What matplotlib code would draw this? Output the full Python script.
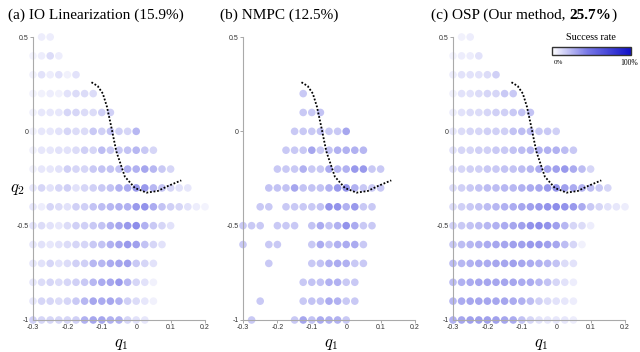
import numpy as np
import matplotlib
matplotlib.use("Agg")
import matplotlib.pyplot as plt
from matplotlib.colors import LinearSegmentedColormap

plt.rcParams["mathtext.fontset"] = "cm"

N = None  # no sample at this grid point

Q1 = [-0.3, -0.275, -0.25, -0.225, -0.2, -0.175, -0.15, -0.125, -0.1, -0.075, -0.05,
      -0.025, 0.0, 0.025, 0.05, 0.075, 0.1, 0.125, 0.15, 0.175, 0.2]
Q2 = [0.5, 0.4, 0.3, 0.2, 0.1, 0.0, -0.1, -0.2, -0.3, -0.4, -0.5, -0.6, -0.7, -0.8, -0.9, -1.0]

# success rate (%) per grid point, one list per q2 row, indexed along Q1
RATE_IO = [
    [N, 6, 6],
    [4, 6, 12, 6],
    [5, 10, 6, 10, 5, 10],
    [4, 5, 6, 5, 10, 12, 12, 12],
    [5, 8, 8, 8, 14, 14, 12, 12, 16, 16],
    [5, 8, 8, 10, 14, 12, 12, 18, 16, 20, 16, 14, 24],
    [5, 8, 8, 10, 10, 12, 16, 14, 22, 18, 18, 20, 24, 18, 14],
    [5, 8, 8, 10, 16, 14, 14, 18, 20, 20, 20, 26, 26, 30, 24, 18, 14],
    [8, 14, 10, 14, 16, 10, 14, 16, 18, 20, 26, 28, 34, 34, 24, 20, 14, 10, 8],
    [8, 6, 14, 12, 10, 16, 16, 20, 22, 24, 26, 26, 34, 36, 28, 20, 16, 14, 10, 6, 4],
    [10, 12, 10, 8, 12, 16, 16, 18, 20, 26, 30, 34, 38, 26, 18, 14, 10],
    [8, 10, 8, 10, 12, 14, 14, 18, 20, 26, 30, 34, 32, 20, 14, 10],
    [8, 10, 14, 10, 12, 16, 16, 24, 24, 28, 30, 32, 18, 14, 10],
    [8, 12, 14, 12, 14, 16, 18, 24, 28, 30, 34, 24, 14, 10, 5],
    [8, 14, 14, 12, 14, 18, 24, 30, 28, 30, 26, 16, 12, 8, 5],
    [16, 14, 14, 14, 14, 16, 26, 30, 30, 26, 26, 14, 10, 8],
]
RATE_NMPC = [
    [],
    [],
    [],
    [N, N, N, N, N, N, N, 18],
    [N, N, N, N, N, N, N, 18, 18, 20],
    [N, N, N, N, N, N, 18, 18, 18, 20, 18, 18, 30],
    [N, N, N, N, N, 18, 18, 18, 30, 18, 20, 26, 26, 26, 24],
    [N, N, N, N, 18, 18, 18, 26, 18, 18, 28, 24, 26, 34, 34, 18, 18],
    [N, N, N, 20, 20, 20, 30, 20, 20, 20, 26, 34, 36, 26, 18, 18, 18],
    [N, N, 18, 18, N, 18, 18, 18, 18, 20, 36, 36, 26, 34, 18, 18],
    [18, 18, 18, N, 18, 18, 18, N, 20, 28, 20, 26, 36, 28, 18, 18],
    [18, N, N, 18, 18, N, N, N, 18, 28, 20, 26, 28, 28, 18],
    [N, N, N, 18, N, N, N, N, 18, 20, 26, 28, 26, 18, 18],
    [N, N, N, N, N, N, N, 18, 20, 20, 26, 26, 18, 18],
    [N, N, 18, N, N, N, N, 18, 20, 20, 28, 26, 18, 18],
    [N, 18, N, N, N, N, 18, 30, 20, 28, 26, 26, 18],
]
RATE_OSP = [
    [N, 5, 6],
    [4, 6, 6, 10],
    [6, 10, 10, 10, 12, 16],
    [5, 10, 10, 12, 14, 14, 18, 18],
    [6, 10, 12, 12, 14, 16, 16, 18, 20, 20],
    [8, 12, 14, 14, 16, 16, 16, 20, 22, 22, 18, 18, 16],
    [10, 14, 14, 16, 16, 18, 18, 20, 22, 24, 26, 26, 26, 22, 18],
    [10, 14, 16, 16, 18, 18, 20, 20, 22, 24, 28, 30, 32, 34, 28, 22, 14],
    [12, 16, 18, 20, 22, 22, 24, 24, 26, 28, 30, 34, 36, 32, 28, 26, 22, 18, 14],
    [12, 16, 18, 20, 22, 24, 26, 28, 30, 32, 34, 36, 38, 36, 34, 28, 18, 14, 10, 8, 6],
    [16, 18, 20, 22, 24, 26, 28, 30, 32, 36, 38, 36, 32, 24, 14, 12, 6],
    [18, 22, 24, 26, 28, 30, 30, 32, 32, 34, 34, 32, 30, 22, 14, 5],
    [22, 24, 26, 28, 28, 30, 30, 32, 30, 28, 26, 24, 20, 12, 10],
    [22, 26, 28, 30, 30, 30, 30, 30, 28, 28, 24, 20, 14, 10, 6],
    [24, 28, 30, 30, 30, 30, 30, 28, 26, 22, 16, 12, 10, 8, 6],
    [26, 30, 32, 32, 32, 32, 30, 28, 20, 14, 10, 8, 8, 8, 6],
]

# dotted boundary curve, same in every panel
BORDER_Q1 = [-0.13, -0.112, -0.097, -0.085, -0.072, -0.058, -0.033, -0.004, 0.03, 0.063,
             0.092, 0.131]
BORDER_Q2 = [0.26, 0.24, 0.2, 0.13, 0.02, -0.105, -0.24, -0.30, -0.325, -0.316, -0.29, -0.26]

XTICKS = [-0.3, -0.2, -0.1, 0, 0.1, 0.2]
XTICKLABELS = ["-0.3", "-0.2", "-0.1", "0", "0.1", "0.2"]
YTICKS = [0.5, 0, -0.5, -1]
YTICKLABELS = ["0.5", "0", "-0.5", "-1"]

PANELS = [
    ("(a) IO Linearization (15.9%)", RATE_IO),
    ("(b) NMPC (12.5%)", RATE_NMPC),
    ("(c) OSP (Our method, ", RATE_OSP),
]

CMAP = LinearSegmentedColormap.from_list(
    "success", [(0, "#ffffff"), (0.45, "#7878e6"), (1, "#1010c8")])
W, H = 640, 352
SERIF = "Liberation Serif"


def points(rates):
    xs, ys, cs = [], [], []
    for q2, row in zip(Q2, rates):
        for q1, r in zip(Q1, row):
            if r is not None:
                xs.append(q1)
                ys.append(q2)
                cs.append(r)
    return xs, ys, cs


fig = plt.figure(figsize=(W / 100, H / 100), dpi=100)
ax_left = [33, 243, 453]
title_left = [8, 220, 431]

for i, (title, rates) in enumerate(PANELS):
    ax = fig.add_axes([ax_left[i] / W, 32 / H, 172 / W, 283 / H])
    xs, ys, cs = points(rates)
    sc = ax.scatter(xs, ys, c=cs, cmap=CMAP, vmin=0, vmax=100, s=30,
                    linewidths=0, clip_on=False, zorder=2)
    ax.plot(BORDER_Q1, BORDER_Q2, color="black", lw=1.3, ls=(0, (1, 1)), zorder=3,
            clip_on=False)
    ax.set_xlim(-0.3, 0.2)
    ax.set_ylim(-1, 0.5)
    ax.set_xticks(XTICKS)
    ax.set_xticklabels(XTICKLABELS, family="Liberation Sans")
    ax.set_yticks(YTICKS)
    ax.set_yticklabels(YTICKLABELS, family="Liberation Sans")
    ax.tick_params(length=2, width=0.6, color="#999999", labelsize=5, pad=1,
                   labelcolor="#333333")
    for side in ("top", "right"):
        ax.spines[side].set_visible(False)
    for side in ("left", "bottom"):
        ax.spines[side].set_color("#aaaaaa")
        ax.spines[side].set_linewidth(0.8)
    ax.patch.set_visible(False)

    t = fig.text(title_left[i] / W, 1 - 19 / H, title, family=SERIF, fontsize=11,
                 va="baseline")
    if i == 2:
        t2 = ax.annotate("25.7%", xy=(1, 0), xycoords=t, va="bottom", family=SERIF,
                         fontsize=11, weight="bold", annotation_clip=False)
        ax.annotate(")", xy=(1, 0), xycoords=t2, va="bottom", family=SERIF,
                    fontsize=11, annotation_clip=False)

    fig.text((ax_left[i] + 88) / W, 1 - 343 / H, "$q_1$", fontsize=12,
             ha="center", va="center")

fig.text(17 / W, 1 - 188 / H, "$q_2$", fontsize=12, ha="center", va="center")

# colour bar in the third panel
cax = fig.add_axes([552 / W, 1 - 55 / H, 79 / W, 8 / H])
cb = fig.colorbar(sc, cax=cax, orientation="horizontal")
cb.set_ticks([])
cb.outline.set_linewidth(1.0)
cb.outline.set_edgecolor("#333333")
fig.text(591 / W, 1 - 37 / H, "Success rate", family=SERIF, fontsize=7.3,
         ha="center", va="center")
fig.text(558 / W, 1 - 63 / H, "0%", family=SERIF, fontsize=5, ha="center", va="center")
fig.text(638 / W, 1 - 63 / H, "100%", family=SERIF, fontsize=5.5, ha="right", va="center")

fig.savefig("out.png", dpi=100)
